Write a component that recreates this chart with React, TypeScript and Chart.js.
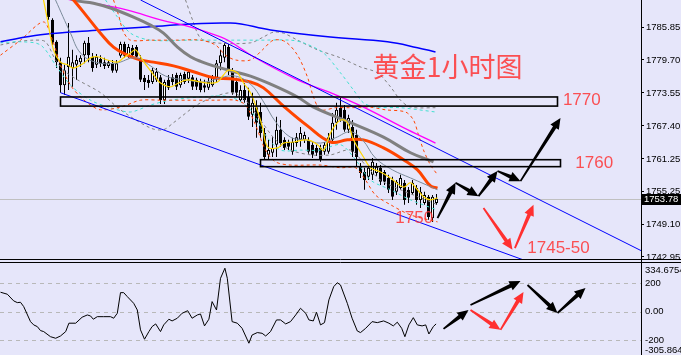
import React, { useEffect, useRef } from 'react';
import { Chart, registerables } from 'chart.js';

Chart.register(...registerables);
Chart.defaults.font.family = '"Liberation Sans", Arial, sans-serif';

// ---------- price panel data ----------
const FIRST_CANDLE = 12;
const opens = [1791.8,1787.2,1783.1,1779.3,1775.0,1778.4,1778.2,1778.8,1779.3,1780.6,1782.9,1780.3,1778.8,1779.9,1779.3,1778.6,1779.1,1777.7,1780.5,1782.7,1780.6,1782.0,1782.1,1780.1,1776.4,1776.0,1775.6,1776.0,1776.5,1772.2,1776.0,1776.5,1776.9,1775.0,1777.1,1776.2,1776.5,1776.0,1775.6,1775.0,1774.5,1775.0,1776.4,1779.1,1780.1,1782.1,1777.8,1775.6,1772.2,1774.1,1772.8,1769.5,1770.9,1770.0,1766.1,1762.0,1762.4,1763.9,1766.7,1764.8,1764.4,1762.6,1764.2,1764.8,1764.8,1764.8,1763.9,1763.3,1763.3,1762.6,1762.6,1764.8,1768.0,1770.8,1770.4,1766.7,1767.2,1765.7,1759.8,1758.8,1757.9,1758.3,1758.6,1759.6,1758.8,1757.7,1757.3,1755.1,1755.8,1756.8,1755.5,1754.9,1755.8,1753.6,1753.0,1754.2,1750.2,1753.0];
const closes = [1787.7,1782.9,1779.3,1775.0,1777.8,1780.3,1779.3,1779.7,1780.1,1782.9,1780.6,1778.2,1780.3,1779.0,1778.6,1779.3,1777.7,1779.1,1782.7,1780.5,1782.1,1780.6,1780.3,1776.0,1775.6,1775.4,1777.8,1777.5,1772.2,1775.6,1774.5,1775.6,1774.7,1776.9,1775.6,1777.5,1774.7,1774.7,1774.1,1774.5,1775.6,1776.4,1779.1,1780.6,1782.5,1777.8,1773.6,1773.6,1774.1,1772.2,1769.1,1771.7,1768.0,1766.1,1761.6,1762.9,1763.3,1766.7,1764.2,1763.3,1763.5,1764.4,1765.3,1766.1,1765.7,1762.6,1762.0,1762.4,1761.1,1763.9,1765.3,1768.0,1770.4,1768.9,1766.7,1768.9,1762.6,1761.6,1758.6,1757.3,1759.6,1760.7,1759.8,1757.0,1757.0,1755.5,1754.2,1757.0,1757.7,1753.6,1754.0,1756.8,1753.6,1755.1,1754.5,1750.4,1754.2,1753.8];
const highs = [1792.8,1787.5,1783.4,1780.1,1778.8,1786.6,1781.6,1780.6,1780.6,1783.3,1784.0,1781.0,1780.8,1780.6,1780.1,1779.7,1779.7,1779.7,1783.1,1783.1,1782.7,1782.5,1782.5,1780.6,1776.9,1776.9,1778.2,1778.2,1776.9,1776.0,1776.9,1777.1,1777.3,1777.3,1777.5,1777.8,1776.9,1776.4,1776.2,1776.0,1776.4,1776.9,1779.7,1781.6,1782.9,1782.7,1778.2,1776.4,1775.0,1775.4,1774.5,1773.6,1772.2,1771.7,1767.0,1764.8,1765.3,1769.1,1768.5,1765.3,1764.8,1765.2,1766.1,1767.2,1766.3,1765.3,1764.4,1763.9,1763.9,1764.4,1766.1,1769.8,1771.7,1772.6,1771.3,1769.5,1768.5,1766.7,1760.5,1759.6,1760.1,1761.4,1760.5,1760.1,1759.2,1758.3,1757.9,1757.3,1758.3,1757.3,1756.0,1757.3,1756.4,1756.0,1755.1,1754.5,1754.5,1754.7];
const lows = [1787.2,1782.5,1778.2,1773.6,1773.2,1774.1,1774.7,1776.0,1778.4,1779.1,1779.3,1777.5,1778.2,1778.4,1778.0,1778.2,1777.3,1777.3,1780.1,1780.1,1780.1,1780.3,1779.7,1775.6,1774.1,1774.5,1775.2,1775.6,1771.5,1771.5,1774.1,1775.0,1774.1,1774.5,1775.2,1775.4,1774.1,1774.1,1773.7,1773.7,1774.1,1774.7,1775.6,1777.8,1779.3,1776.9,1773.2,1772.8,1771.9,1771.7,1768.5,1767.2,1765.2,1765.2,1761.1,1761.1,1761.6,1761.6,1763.5,1762.9,1762.9,1762.0,1763.5,1763.5,1764.2,1762.2,1761.4,1761.8,1760.7,1762.0,1762.2,1764.4,1766.7,1768.2,1766.3,1766.1,1761.6,1759.8,1757.7,1755.5,1757.3,1757.3,1758.1,1756.4,1756.4,1754.9,1753.6,1754.5,1755.5,1752.7,1753.0,1754.5,1752.7,1752.1,1752.7,1749.9,1749.5,1752.7];

const blueMA = [[0,1783.1],[10,1784.4],[25,1785.3],[37.5,1785.9],[57.5,1786.6],[67.5,1785.3],[82.5,1784.0],[96.75,1783.1],[104.25,1782.0],[108.75,1781.2]];
const grayMA = [[15,1792.4],[18.25,1790.9],[23.25,1790.3],[27.5,1789.4],[33.25,1787.7],[37.5,1786.2],[40.75,1784.7],[44.25,1782.1],[47.5,1780.3],[50.5,1779.3],[53.25,1778.6],[57.5,1777.7],[62.5,1776.7],[67.5,1775.2],[74.25,1772.8],[78.25,1770.9],[87.5,1768.0],[95.75,1765.3],[102.5,1762.4],[108.25,1760.7]];
const orangeMA = [[17,1791.8],[18.25,1790.9],[21.75,1787.7],[25,1784.7],[28.25,1782.1],[31.75,1780.6],[35,1779.7],[38.25,1779.3],[43.25,1778.6],[48.25,1777.5],[53.25,1776.4],[57.5,1776.2],[62.5,1775.6],[65.75,1774.5],[70.75,1771.1],[76.75,1767.4],[82.5,1764.4],[86.75,1764.8],[90.75,1764.8],[95.75,1763.3],[100.75,1761.1],[104.25,1759.2],[107.5,1756.2],[109.25,1755.8]];
const magentaMA = [[15,1791.6],[17.5,1790.9],[23.25,1790.3],[31.75,1789.0],[40,1787.2],[48.25,1785.7],[55,1784.0],[57.5,1783.1],[63.25,1780.3],[74.25,1776.0],[82.5,1773.6],[90.75,1770.9],[101.75,1766.7],[108.75,1764.2]];
const yellowMA = [[10.75,1790.9],[11.75,1787.2],[13.25,1781.6],[15,1779.3],[16.75,1778.8],[18.25,1778.2],[20.75,1779.1],[22.5,1780.1],[24.25,1780.3],[26.75,1779.7],[29.25,1779.3],[30.75,1780.1],[32.5,1781.0],[33.75,1781.6],[35,1780.3],[36.75,1778.4],[38.75,1776.5],[40,1775.4],[42.5,1774.7],[44.5,1775.4],[46.75,1776.0],[50,1775.6],[51.75,1775.4],[54.25,1775.6],[55.75,1776.9],[57,1777.8],[59.25,1777.3],[60.75,1775.4],[62.5,1773.6],[63.75,1771.3],[65.5,1767.2],[66.75,1763.5],[69.25,1763.3],[70.75,1764.2],[73.25,1764.4],[76.75,1764.8],[79.25,1763.9],[80.75,1762.9],[82.5,1766.1],[85,1768.5],[86.75,1768.0],[88.25,1764.8],[90.75,1761.6],[92.5,1759.6],[95,1758.8],[97.5,1757.7],[100.75,1756.0],[102.5,1756.8],[104.25,1755.5],[105.75,1754.2],[107.5,1753.6],[109.25,1754.0]];
const thinGrayMA = [[13.75,1790.9],[17.5,1784.7],[20,1781.0],[23.75,1779.3],[28.75,1779.1],[33.75,1780.1],[37.5,1778.6],[41.25,1776.7],[46.25,1776.0],[51.25,1775.6],[55,1776.4],[58.75,1776.7],[62.5,1775.2],[65.5,1772.2],[68.75,1768.2],[72.5,1765.3],[76.25,1764.8],[80,1764.2],[83.75,1765.2],[87.5,1766.3],[90.5,1764.8],[93.75,1761.4],[98,1759.2],[102.5,1757.7],[109.25,1755.5]];

const orangeBandLow = [[0,1780.6],[5,1783.4],[10.75,1786.8],[13,1783.4],[15,1778.8],[17.5,1775.0],[20,1772.8],[22.5,1771.3],[25,1770.4],[30,1770.9],[35,1772.2],[40,1772.2],[47.5,1772.2],[53.75,1772.2],[58.75,1772.2],[61.25,1771.3],[63.75,1767.6],[66.25,1762.9],[68.75,1760.7],[72.5,1760.1],[80,1760.1],[85,1759.6],[88.75,1759.6],[91.25,1757.3],[93.75,1754.5],[97.5,1752.7],[102.5,1750.8],[109.25,1749.5]];
const orangeBandHigh = [[28.25,1790.9],[29.5,1788.1],[30.75,1784.9],[32.5,1783.4],[37.5,1783.4],[43.75,1783.4],[50,1783.4],[53.75,1782.5],[56.25,1780.6],[58.75,1779.7],[62.5,1779.7],[65.5,1781.6],[68.25,1783.4],[71.25,1783.1],[74.25,1780.6],[76.75,1776.5],[78.25,1772.8],[80,1770.4],[83.75,1770.8],[87.5,1770.8],[92.5,1770.9],[96.25,1770.4],[101.25,1770.0],[103.25,1768.5],[104.5,1765.7],[105.75,1762.9],[107.5,1760.1],[109.25,1758.3]];
const cyanBandHigh = [[26.25,1790.9],[29.25,1787.7],[32.5,1784.7],[37.5,1783.4],[47.5,1783.4],[57.5,1783.4],[65,1783.4],[72.5,1783.4],[75.75,1782.9],[80.75,1781.0],[85,1777.3],[88.25,1774.1],[90.75,1771.7],[93.75,1770.9],[100,1770.8],[108.75,1770.0]];
const cyanBandLow = [[0,1782.9],[5,1783.1],[10,1782.5],[13.75,1778.8],[17.5,1775.0],[22.5,1772.2],[27.5,1770.8],[32.5,1770.0],[37.5,1771.3],[42.5,1772.2],[50,1772.8],[57.5,1772.8],[62.5,1770.4],[66.25,1765.7],[70,1762.9],[75,1762.9],[80,1762.9],[85,1763.9],[88.75,1761.1],[92.5,1757.3],[97.5,1755.5],[102.5,1753.6],[109.25,1751.7]];
const grayBandLow = [[0,1782.5],[4.25,1783.1],[8.25,1783.4],[11.25,1783.1],[13.75,1779.7],[16.25,1777.5],[19.25,1776.0],[25,1773.6],[30,1770.4],[37.5,1767.0],[40.75,1766.7],[43.25,1768.0],[50,1771.7],[57.5,1773.6],[61.25,1772.2],[65,1768.5],[68.75,1764.8],[72.5,1762.9],[77.5,1762.0],[82.5,1762.0],[87.5,1762.9],[91.25,1760.1],[95,1757.3],[100,1755.5],[105,1754.0],[109.25,1752.7]];
const grayBandHigh = [[46.25,1790.9],[48,1787.2],[50,1783.8],[53.75,1782.9],[62.5,1782.9],[65.75,1784.0],[68.25,1784.9],[70.75,1784.7],[74.25,1783.4],[79.25,1781.6],[85,1780.1],[90,1778.4],[94.25,1777.3],[97.5,1774.7],[100,1772.2],[102.5,1770.9],[108.75,1770.8]];

const channelUpper = [[35,1790.9],[160.25,1744.1]];
const channelLower = [[15,1773.6],[130.75,1742.4]];

const zoneBoxes = [
  { x0: 15, x1: 139.25, top: 1772.8, bottom: 1771.1 },
  { x0: 65, x1: 140, top: 1761.1, bottom: 1759.8 },
];
const notes = [
  { text: '黄金1小时图', x: 93, y: 1778.4, cjk: true },
  { text: '1770', x: 140.6, y: 1772.1, cjk: false },
  { text: '1760', x: 143.7, y: 1760.5, cjk: false },
  { text: '1750', x: 98.7, y: 1750.1, cjk: false },
  { text: '1745-50', x: 131.7, y: 1744.6, cjk: false },
];
const upperBlackArrows = [
  [109.25, 1750.2, 113.75, 1756.8],
  [113.75, 1756.8, 119.5, 1754.3],
  [119.5, 1754.3, 124.25, 1759.0],
  [124.25, 1759.0, 130, 1757.1],
  [130, 1757.1, 140, 1768.9],
];
const upperRedArrows = [
  [120.75, 1752.1, 128, 1744.3],
  [128.6, 1744.6, 133.25, 1752.7],
];

const priceTickValues = [1785.85, 1779.7, 1773.55, 1767.4, 1761.25, 1755.25, 1749.1, 1742.95];
const priceTickLabels = ['1785.85', '1779.70', '1773.55', '1767.40', '1761.25', '1755.25', '1749.10', '1742.95'];
const priceMin = 1742.39;
const priceMax = 1790.89;
const bidPrice = 1753.78;
const bidLabel = '1753.78';

// ---------- oscillator panel data ----------
const cciPoints = [[0,136],[1.7,122],[3.3,75],[4.2,63],[5,65],[5.8,35],[7.5,-71],[8.3,-94],[9.2,-106],[10,-134],[10.8,-141],[12.5,-177],[13.8,-188],[15,-172],[16.3,-141],[17.1,-82],[18.8,-82],[20.4,-40],[21.7,-24],[22.5,-31],[23.2,-54],[24.2,-36],[25.8,-36],[27.5,-36],[28.3,-47],[29.2,-12],[30,133],[30.8,133],[31.7,105],[33.3,58],[34.2,11],[35,-129],[36,-195],[37.1,-141],[37.9,-106],[38.8,-87],[40,-141],[40.8,-94],[42.1,-54],[42.9,-66],[44.2,-47],[45.4,-12],[46.8,6],[47.9,-47],[49.2,-24],[50,-17],[51,-101],[52.1,-54],[52.9,70],[54,11],[55,234],[56.1,305],[56.7,234],[57.9,-71],[59.2,-82],[60.4,-118],[62.1,-223],[62.9,-165],[64.2,-148],[65.4,-153],[66.3,-172],[67.5,-141],[69,-59],[70,-59],[71.3,-87],[72.5,-71],[73.8,-24],[75,23],[76.3,-12],[77.1,-59],[78.2,-66],[79,-5],[80,-94],[81,-78],[82.1,82],[83.3,175],[84.2,203],[85,187],[86.7,58],[87.9,-47],[89.2,-137],[90,-148],[91.3,-118],[92.9,-71],[94.2,-78],[95.8,-66],[97.1,-82],[98.2,-101],[99.2,-75],[100.3,-118],[101.1,-177],[102.1,-94],[103.2,-43],[104.2,-94],[105.4,-101],[106.3,-94],[107.1,-158],[108.2,-106],[108.9,-87]];
const cciTickValues = [200, 0, -200];
const cciTickLabels = ['200', '0.00', '-200'];
const cciMax = 334.6754;
const cciMin = -305.864;
const cciMaxLabel = '334.6754';
const cciMinLabel = '-305.864';
const lowerBlackArrows = [
  [110.75, -122, 117, 11],
  [117.5, 46, 130, 215],
  [131.75, 187, 139.25, -10],
  [139.25, -10, 146.25, 166],
];
const lowerRedArrows = [
  [117.5, 11, 125, -129],
  [125, -129, 130.75, 138],
];

// ---------- helpers ----------
const AXIS_W = 40;
const AXIS_FONT = { size: 9.5, family: '"Liberation Sans", Arial, sans-serif' };
const AXIS_FONT_CSS = '9.5px "Liberation Sans", Arial, sans-serif';
const RED = 'rgba(255,45,45,0.82)';
const xScale = { type: 'linear', min: -0.125, max: 160.125, display: false, offset: false };

const toXY = (pts: number[][]) => pts.map(([x, y]) => ({ x, y }));
const lineDs = (pts: number[][], color: string, width: number, order: number, dash: number[] = [], tension = 0.4) => ({
  type: 'line', data: toXY(pts), borderColor: color, borderWidth: width, borderDash: dash,
  pointRadius: 0, tension, fill: false, order,
});

function drawArrow(ctx: CanvasRenderingContext2D, x1: number, y1: number, x2: number, y2: number, color: string) {
  const dx = x2 - x1, dy = y2 - y1;
  const len = Math.hypot(dx, dy);
  const ux = dx / len, uy = dy / len;
  const nx = -uy, ny = ux;
  const head = 11, hw = 5, w0 = 0.9, w1 = 1.9;
  const bx = x2 - ux * head, by = y2 - uy * head;
  ctx.fillStyle = color;
  ctx.beginPath();
  ctx.moveTo(x1 + nx * w0, y1 + ny * w0);
  ctx.lineTo(bx + nx * w1, by + ny * w1);
  ctx.lineTo(bx + nx * hw, by + ny * hw);
  ctx.lineTo(x2, y2);
  ctx.lineTo(bx - nx * hw, by - ny * hw);
  ctx.lineTo(bx - nx * w1, by - ny * w1);
  ctx.lineTo(x1 - nx * w0, y1 - ny * w0);
  ctx.closePath();
  ctx.fill();
}

const upperPlugin = {
  id: 'upperDecor',
  beforeDatasetsDraw(chart: any) {
    const { ctx, chartArea, scales } = chart;
    const py = Math.round(scales.y.getPixelForValue(bidPrice)) + 0.5;
    ctx.save();
    ctx.strokeStyle = '#c0c0c0';
    ctx.lineWidth = 1;
    ctx.beginPath();
    ctx.moveTo(chartArea.left, py);
    ctx.lineTo(chartArea.right, py);
    ctx.stroke();
    ctx.restore();
  },
  afterDatasetsDraw(chart: any) {
    const { ctx, scales } = chart;
    const X = (v: number) => scales.x.getPixelForValue(v);
    const Y = (v: number) => scales.y.getPixelForValue(v);
    ctx.save();
    ctx.strokeStyle = '#000';
    ctx.lineWidth = 1.6;
    zoneBoxes.forEach((b) => {
      const l = X(b.x0), r = X(b.x1), t = Y(b.top), btm = Y(b.bottom);
      ctx.strokeRect(l, t, r - l, btm - t);
    });
    upperBlackArrows.forEach((a) => drawArrow(ctx, X(a[0]), Y(a[1]), X(a[2]), Y(a[3]), '#000'));
    upperRedArrows.forEach((a) => drawArrow(ctx, X(a[0]), Y(a[1]), X(a[2]), Y(a[3]), '#ff3030'));
    ctx.fillStyle = RED;
    ctx.textAlign = 'left';
    ctx.textBaseline = 'middle';
    notes.forEach((n) => {
      ctx.font = n.cjk ? '27px "Noto Sans CJK SC", sans-serif' : '17px "Liberation Sans", Arial, sans-serif';
      ctx.fillText(n.text, X(n.x), Y(n.y));
    });
    ctx.restore();
  },
  afterDraw(chart: any) {
    const { ctx, chartArea, scales, width } = chart;
    const py = Math.round(scales.y.getPixelForValue(bidPrice));
    ctx.save();
    ctx.fillStyle = '#000';
    ctx.fillRect(chartArea.right + 1, py - 5, width - chartArea.right - 1, 11);
    ctx.fillStyle = '#fff';
    ctx.font = AXIS_FONT_CSS;
    ctx.textBaseline = 'middle';
    ctx.textAlign = 'left';
    ctx.fillText(bidLabel, chartArea.right + 3, py + 0.5);
    ctx.strokeStyle = '#000';
    ctx.lineWidth = 1;
    ctx.beginPath();
    ctx.moveTo(0, chart.height - 0.5);
    ctx.lineTo(width, chart.height - 0.5);
    ctx.stroke();
    ctx.restore();
  },
};

const lowerPlugin = {
  id: 'lowerDecor',
  beforeDatasetsDraw(chart: any) {
    const { ctx, chartArea, scales } = chart;
    ctx.save();
    ctx.strokeStyle = '#b8b8b8';
    ctx.lineWidth = 1;
    ctx.setLineDash([4, 4]);
    cciTickValues.forEach((v) => {
      const py = Math.round(scales.y.getPixelForValue(v)) + 0.5;
      ctx.beginPath();
      ctx.moveTo(chartArea.left, py);
      ctx.lineTo(chartArea.right, py);
      ctx.stroke();
    });
    ctx.restore();
  },
  afterDatasetsDraw(chart: any) {
    const { ctx, scales } = chart;
    const X = (v: number) => scales.x.getPixelForValue(v);
    const Y = (v: number) => scales.y.getPixelForValue(v);
    ctx.save();
    lowerBlackArrows.forEach((a) => drawArrow(ctx, X(a[0]), Y(a[1]), X(a[2]), Y(a[3]), '#000'));
    lowerRedArrows.forEach((a) => drawArrow(ctx, X(a[0]), Y(a[1]), X(a[2]), Y(a[3]), '#ff3030'));
    ctx.restore();
  },
  afterDraw(chart: any) {
    const { ctx, chartArea, width } = chart;
    ctx.save();
    ctx.strokeStyle = '#000';
    ctx.lineWidth = 1;
    ctx.beginPath();
    ctx.moveTo(0, 2.5);
    ctx.lineTo(width, 2.5);
    ctx.moveTo(chartArea.right + 0.5, 0);
    ctx.lineTo(chartArea.right + 0.5, chartArea.top);
    ctx.stroke();
    ctx.fillStyle = '#000';
    ctx.font = AXIS_FONT_CSS;
    ctx.textAlign = 'left';
    ctx.textBaseline = 'middle';
    ctx.fillText(cciMaxLabel, chartArea.right + 4, chartArea.top + 6);
    ctx.fillText(cciMinLabel, chartArea.right + 4, chartArea.bottom - 5);
    ctx.restore();
  },
};

export default function App() {
  const upRef = useRef<HTMLCanvasElement>(null);
  const loRef = useRef<HTMLCanvasElement>(null);

  useEffect(() => {
    const bodies = opens.map((o, k) => ({ x: FIRST_CANDLE + k, y: [o, closes[k]] }));
    const wicks = lows.map((l, k) => ({ x: FIRST_CANDLE + k, y: [l, highs[k]] }));
    const bodyColors = opens.map((o, k) => (closes[k] >= o ? '#ffffff' : '#000000'));

    const up = new Chart(upRef.current as HTMLCanvasElement, {
      type: 'bar',
      data: {
        datasets: [
          lineDs(channelUpper, '#0000ff', 1, 0, [], 0),
          lineDs(channelLower, '#0000ff', 1, 0, [], 0),
          lineDs(yellowMA, '#ffd700', 1.2, 1),
          lineDs(thinGrayMA, '#7a8a99', 1, 1),
          lineDs(orangeMA, '#ff4500', 3, 2),
          lineDs(grayMA, '#808080', 3, 2),
          lineDs(magentaMA, '#ff00ff', 1.3, 2),
          lineDs(blueMA, '#0000ff', 1.5, 2),
          lineDs(orangeBandHigh, '#ff4500', 1, 4, [3, 3], 0.3),
          lineDs(orangeBandLow, '#ff4500', 1, 4, [3, 3], 0.3),
          lineDs(cyanBandHigh, '#40e0d0', 1, 4, [3, 3], 0.3),
          lineDs(cyanBandLow, '#40e0d0', 1, 4, [3, 3], 0.3),
          lineDs(grayBandHigh, '#808080', 1, 4, [3, 3], 0.3),
          lineDs(grayBandLow, '#808080', 1, 4, [3, 3], 0.3),
          {
            type: 'bar', data: bodies, backgroundColor: bodyColors, borderColor: '#000', borderWidth: 1,
            barThickness: 3, grouped: false, borderSkipped: false, inflateAmount: 0, order: 8,
          },
          {
            type: 'bar', data: wicks, backgroundColor: '#000', borderWidth: 0,
            barThickness: 1, grouped: false, borderSkipped: false, inflateAmount: 0, order: 9,
          },
        ] as any,
      },
      options: {
        responsive: false,
        animation: false,
        devicePixelRatio: 1,
        layout: { padding: 0 },
        plugins: { legend: { display: false }, tooltip: { enabled: false } },
        scales: {
          x: xScale as any,
          y: {
            type: 'linear', position: 'right', min: priceMin, max: priceMax, bounds: 'data',
            afterBuildTicks: (s: any) => { s.ticks = priceTickValues.map((v) => ({ value: v })); },
            afterFit: (s: any) => { s.width = AXIS_W; s.paddingTop = 0; s.paddingBottom = 0; },
            ticks: {
              autoSkip: false, padding: 2, color: '#000', font: AXIS_FONT,
              callback: (_v: any, i: number) => priceTickLabels[i],
            },
            grid: { drawOnChartArea: false, drawTicks: true, tickLength: 3, tickColor: '#000', color: '#000' },
            border: { display: true, color: '#000', width: 1 },
          } as any,
        },
      },
      plugins: [upperPlugin],
    } as any);

    const lo = new Chart(loRef.current as HTMLCanvasElement, {
      type: 'line',
      data: {
        datasets: [lineDs(cciPoints, '#000', 1, 0, [], 0)] as any,
      },
      options: {
        responsive: false,
        animation: false,
        devicePixelRatio: 1,
        layout: { padding: { top: 4 } },
        plugins: { legend: { display: false }, tooltip: { enabled: false } },
        scales: {
          x: xScale as any,
          y: {
            type: 'linear', position: 'right', min: cciMin, max: cciMax, bounds: 'data',
            afterBuildTicks: (s: any) => { s.ticks = cciTickValues.map((v) => ({ value: v })); },
            afterFit: (s: any) => { s.width = AXIS_W; s.paddingTop = 0; s.paddingBottom = 0; },
            ticks: {
              autoSkip: false, padding: 4, color: '#000', font: AXIS_FONT,
              callback: (_v: any, i: number) => cciTickLabels[i],
            },
            grid: { drawOnChartArea: false, drawTicks: false, color: 'rgba(0,0,0,0)' },
            border: { display: true, color: '#000', width: 1 },
          } as any,
        },
      },
      plugins: [lowerPlugin],
    } as any);

    return () => {
      up.destroy();
      lo.destroy();
    };
  }, []);

  return (
    <div style={{ position: 'relative', width: 681, height: 355, background: '#e6e6fa', overflow: 'hidden' }}>
      <style>{'body{margin:0}'}</style>
      <canvas ref={upRef} width={681} height={260} style={{ position: 'absolute', left: 0, top: 0, width: 681, height: 260 }} />
      <canvas ref={loRef} width={681} height={95} style={{ position: 'absolute', left: 0, top: 260, width: 681, height: 95 }} />
    </div>
  );
}
